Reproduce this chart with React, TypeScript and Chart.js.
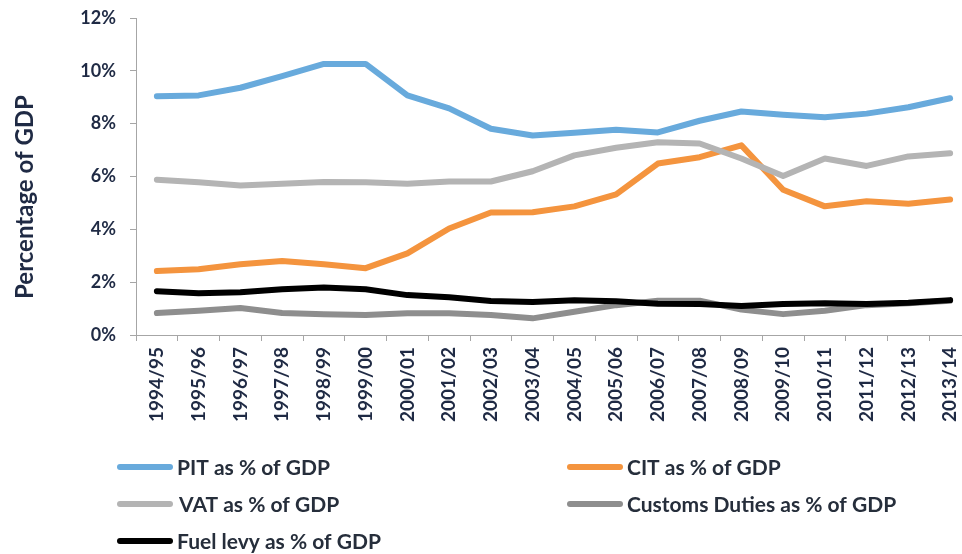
import React, { useEffect, useRef } from "react";
import { Chart, registerables } from "chart.js";

Chart.register(...registerables);

const categories = [
  "1994/95", "1995/96", "1996/97", "1997/98", "1998/99", "1999/00", "2000/01",
  "2001/02", "2002/03", "2003/04", "2004/05", "2005/06", "2006/07", "2007/08",
  "2008/09", "2009/10", "2010/11", "2011/12", "2012/13", "2013/14",
];

const pit = [9.04, 9.07, 9.36, 9.8, 10.26, 10.26, 9.07, 8.58, 7.81, 7.55, 7.66, 7.77, 7.67, 8.11, 8.46, 8.34, 8.24, 8.38, 8.62, 8.96];
const cit = [2.42, 2.49, 2.68, 2.8, 2.68, 2.53, 3.09, 4.03, 4.64, 4.65, 4.87, 5.32, 6.49, 6.73, 7.18, 5.5, 4.87, 5.06, 4.97, 5.13];
const vat = [5.88, 5.78, 5.66, 5.73, 5.79, 5.78, 5.73, 5.81, 5.81, 6.2, 6.8, 7.09, 7.3, 7.25, 6.68, 6.02, 6.68, 6.4, 6.76, 6.88];
const customs = [0.83, 0.92, 1.02, 0.83, 0.79, 0.76, 0.82, 0.82, 0.76, 0.63, 0.88, 1.13, 1.3, 1.3, 0.96, 0.79, 0.92, 1.13, 1.2, 1.3];
const fuel = [1.66, 1.58, 1.62, 1.73, 1.8, 1.73, 1.51, 1.43, 1.29, 1.25, 1.32, 1.28, 1.18, 1.17, 1.1, 1.17, 1.2, 1.17, 1.22, 1.32];

const yTicks = [0, 2, 4, 6, 8, 10, 12];

const seriesNames = [
  "PIT as % of GDP",
  "CIT as % of GDP",
  "VAT as % of GDP",
  "Customs Duties as % of GDP",
  "Fuel levy as % of GDP",
];
const seriesColors = ["#68AADC", "#F4943E", "#B4B4B4", "#8E8E8E", "#000000"];
const seriesData = [pit, cit, vat, customs, fuel];

const TICK_COLOR = "#1F2A44";
const AXIS_COLOR = "#A6A6A6";
const FONT = "Lato";

const legendPlugin = {
  id: "customLegend",
  afterDraw(chart: any) {
    const ctx = chart.ctx;
    const slots = [
      { x: 120, y: 467, tx: 177 },
      { x: 570, y: 467, tx: 627 },
      { x: 120, y: 504, tx: 179 },
      { x: 570, y: 504, tx: 627 },
      { x: 120, y: 541, tx: 177 },
    ];
    ctx.save();
    chart.data.datasets.forEach((ds: any, i: number) => {
      const s = slots[i];
      ctx.beginPath();
      ctx.strokeStyle = ds.borderColor;
      ctx.lineWidth = 6;
      ctx.lineCap = "round";
      ctx.moveTo(s.x, s.y);
      ctx.lineTo(s.x + 50, s.y);
      ctx.stroke();
      ctx.fillStyle = "#262E3B";
      ctx.font = `bold 21px ${FONT}`;
      ctx.textAlign = "left";
      ctx.textBaseline = "middle";
      ctx.fillText(ds.label, s.tx, s.y + 1);
    });
    // y axis title
    ctx.translate(25, 197);
    ctx.rotate(-Math.PI / 2);
    ctx.fillStyle = TICK_COLOR;
    ctx.font = `bold 24px ${FONT}`;
    ctx.textAlign = "center";
    ctx.textBaseline = "middle";
    ctx.fillText("Percentage of GDP", 0, 0);
    ctx.restore();
  },
};

export default function App() {
  const ref = useRef<HTMLCanvasElement | null>(null);

  useEffect(() => {
    if (!ref.current) return;
    const chart = new Chart(ref.current, {
      type: "line",
      data: {
        labels: categories,
        datasets: seriesData.map((d, i) => ({
          label: seriesNames[i],
          data: d,
          borderColor: seriesColors[i],
          backgroundColor: seriesColors[i],
          borderWidth: 6,
          pointRadius: 0,
          pointHoverRadius: 0,
          tension: 0,
          borderCapStyle: "round" as const,
          borderJoinStyle: "round" as const,
          fill: false,
          order: 5 - i,
        })),
      },
      options: {
        responsive: false,
        animation: false,
        events: [],
        layout: { padding: { left: 0, top: 18, right: 9, bottom: 0 } },
        plugins: {
          legend: { display: false },
          tooltip: { enabled: false },
          title: { display: false },
        },
        scales: {
          x: {
            type: "category",
            offset: true,
            grid: {
              offset: true,
              drawOnChartArea: false,
              drawTicks: true,
              tickLength: 6,
              color: AXIS_COLOR,
            },
            border: { display: true, color: AXIS_COLOR, width: 1 },
            ticks: {
              color: TICK_COLOR,
              font: { family: FONT, size: 19, weight: "bold" },
              minRotation: 90,
              maxRotation: 90,
              autoSkip: false,
              padding: 6,
            },
            afterFit: (scale: any) => {
              scale.height = 554 - 335;
              scale.paddingLeft = 0;
              scale.paddingRight = 0;
            },
          },
          y: {
            min: 0,
            max: 12,
            afterBuildTicks: (scale: any) => {
              scale.ticks = yTicks.map((v) => ({ value: v }));
            },
            grid: {
              drawOnChartArea: false,
              drawTicks: true,
              tickLength: 6,
              color: AXIS_COLOR,
            },
            border: { display: true, color: AXIS_COLOR, width: 1 },
            ticks: {
              color: TICK_COLOR,
              font: { family: FONT, size: 18, weight: "bold" },
              padding: 14,
              callback: (v: any) => `${v}%`,
            },
            afterFit: (scale: any) => {
              scale.width = 136;
              scale.paddingTop = 0;
              scale.paddingBottom = 0;
            },
          },
        },
      },
      plugins: [legendPlugin],
    });
    return () => chart.destroy();
  }, []);

  return (
    <div
      style={{
        position: "fixed",
        left: 0,
        top: 0,
        width: 962,
        height: 554,
        overflow: "hidden",
        background: "#ffffff",
      }}
    >
      <canvas ref={ref} width={980} height={554} style={{ display: "block" }} />
    </div>
  );
}
